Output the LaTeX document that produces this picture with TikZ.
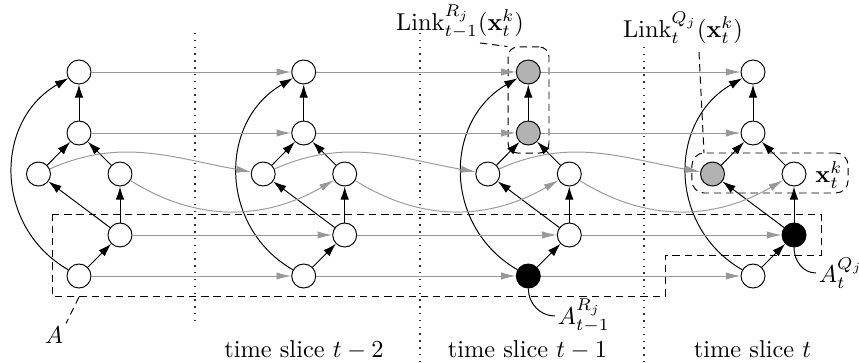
\documentclass[tikz,border=0pt]{standalone}
\usetikzlibrary{arrows.meta,calc}
\begin{document}
\begin{tikzpicture}[x=0.41pt,y=0.41pt,
  nd/.style={circle,draw,fill=white,minimum size=9.84pt,inner sep=0pt},
  gnd/.style={nd,fill=gray!60},
  bnd/.style={nd,fill=black},
  intra/.style={-{Latex[length=5.4pt,width=3.5pt]},black},
  inter/.style={-{Latex[length=6pt,width=3pt]},gray!80},
  dsh/.style={dash pattern=on 3pt off 2pt},
  sep/.style={line width=0.5pt,dash pattern=on 0.6pt off 2.2pt,black!80},
  lab/.style={inner sep=1pt}
]
\useasboundingbox (0,0) rectangle (859,362);

% time slice separators
\draw[sep] (195,329) -- (195,40);
\draw[sep] (420,329) -- (420,0);
\draw[sep] (644,315) -- (644,0);

% dashed region A
\draw[dsh] (52,148) -- (821,148) -- (821,107) -- (665,107) -- (665,66) -- (52,66) -- cycle;

% dashed boxes
\node[draw,dsh,rounded corners=4pt,minimum width=16.8pt,minimum height=43.5pt] (LR) at (528.5,262) {};
\node[draw,dsh,rounded corners=5pt,minimum width=64pt,minimum height=16.4pt] (XB) at (770,189) {};

% slice 1
\node[nd] (T1) at (79,290) {};
\node[nd] (S1) at (79,229) {};
\node[nd] (L1) at (38.5,188) {};
\node[nd] (R1) at (120,188) {};
\node[nd] (Q1) at (120,127) {};
\node[nd] (B1) at (79,86) {};
% slice 2
\node[nd] (T2) at (303.7,290) {};
\node[nd] (S2) at (303.7,229) {};
\node[nd] (L2) at (263.2,188) {};
\node[nd] (R2) at (344.7,188) {};
\node[nd] (Q2) at (344.7,127) {};
\node[nd] (B2) at (303.7,86) {};
% slice 3
\node[gnd] (T3) at (528.3,290) {};
\node[gnd] (S3) at (528.3,229) {};
\node[nd] (L3) at (487.8,188) {};
\node[nd] (R3) at (569.3,188) {};
\node[nd] (Q3) at (569.3,127) {};
\node[bnd] (B3) at (528.3,86) {};
% slice 4
\node[nd] (T4) at (753,290) {};
\node[nd] (S4) at (753,229) {};
\node[gnd] (L4) at (712.5,188) {};
\node[nd] (R4) at (794,188) {};
\node[bnd] (Q4) at (794,127) {};
\node[nd] (B4) at (753,86) {};

% intra-slice arcs
\foreach \i in {1,2,3,4}{
  \draw[intra] (S\i) -- (T\i);
  \draw[intra] (L\i) -- (S\i);
  \draw[intra] (R\i) -- (S\i);
  \draw[intra] (Q\i) -- (L\i);
  \draw[intra] (Q\i) -- (R\i);
  \draw[intra] (B\i) -- (Q\i);
  \draw[intra] (B\i) to[out=150,in=210,looseness=1.15] (T\i);
}

% inter-slice arcs
\foreach \i/\j in {1/2,2/3,3/4}{
  \draw[inter] (T\i) -- (T\j);
  \draw[inter] (S\i) -- (S\j);
  \draw[inter] (L\i) to[out=24,in=170] (L\j);
  \draw[inter] (R\i) to[out=-32,in=-150] (R\j);
  \draw[inter] (Q\i) -- (Q\j);
  \draw[inter] (B\i) -- (B\j);
}

% labels
\node[anchor=base] (labR) at (460,332) {$\mathrm{Link}_{t-1}^{R_j}(\mathbf{x}_t^k)$};
\node[anchor=base] (labQ) at (683,325) {$\mathrm{Link}_{t}^{Q_j}(\mathbf{x}_t^k)$};
\node[anchor=base west,inner sep=0pt] (labX) at (815,180) {$\mathbf{x}_t^k$};
\coordinate (lrStart) at (480,319);
\draw[dsh] (lrStart) -- (LR.north west);
\coordinate (lqStart) at (699,310);
\coordinate (lqEnd) at (704,209);
\draw[dsh] (lqStart) -- (lqEnd);

\node[anchor=base,lab] (labA) at (54,19) {$A$};
\coordinate (aTop) at (79,65);
\draw[dsh] (aTop) -- (labA.north east);

\node[anchor=west,lab] (labAR) at (555,46) {$A_{t-1}^{R_j}$};
\draw (B3.south) to[out=-90,in=180] (labAR.west);
\node[anchor=west,lab] (labAQ) at (816,89) {$A_t^{Q_j}$};
\draw (Q4.south) to[out=-90,in=180] (labAQ.west);

\node[anchor=base] (ts2) at (304,5) {time slice $t-2$};
\node[anchor=base] (ts1) at (527.5,5) {time slice $t-1$};
\node[anchor=base] (ts0) at (752.5,5) {time slice $t$};
\end{tikzpicture}
\end{document}
